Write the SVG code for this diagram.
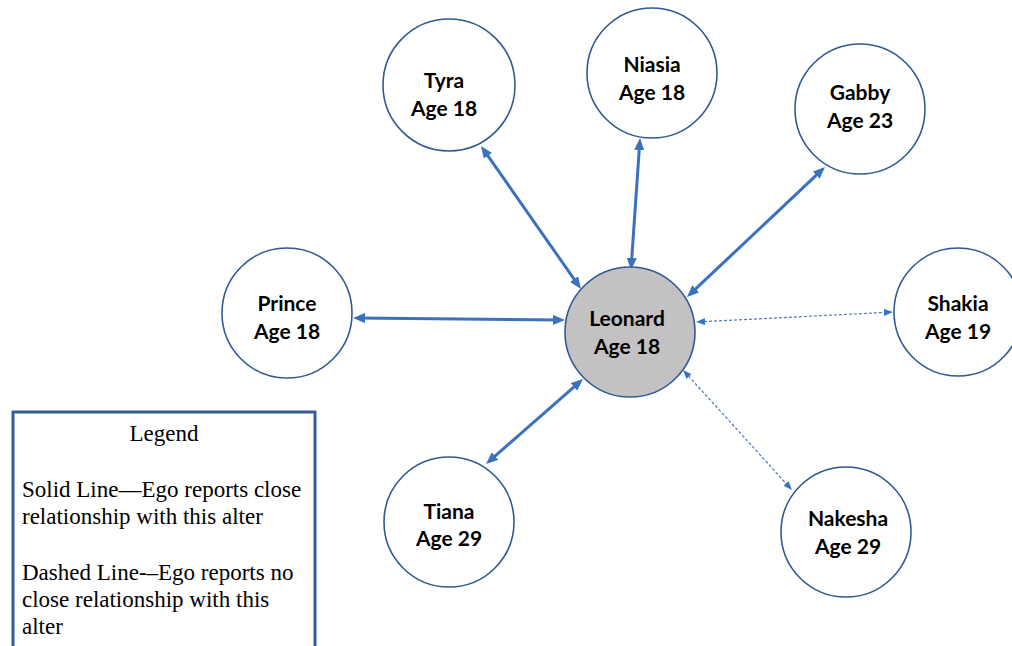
<svg xmlns="http://www.w3.org/2000/svg" width="1012" height="646" viewBox="0 0 1012 646">
<style>
.node{fill:#FFFFFF;stroke:#2E5A94;stroke-width:1.6}
.ego{fill:#C3C1C2;stroke:#2E5A94;stroke-width:1.6}
.lbl{font-family:Lato,"Liberation Sans",sans-serif;font-weight:bold;font-size:21px;fill:#000;text-anchor:middle}
.solid{stroke:#3A72BF;stroke-width:3;fill:none;marker-start:url(#ah);marker-end:url(#ah)}
.dash{stroke:#4F78B5;stroke-width:1.2;stroke-dasharray:3 2;fill:none;marker-start:url(#ahs);marker-end:url(#ahs)}
.leg{font-family:"Liberation Serif","Times New Roman",serif;font-size:23px;fill:#000}
</style>
<defs>
<marker id="ah" markerUnits="userSpaceOnUse" viewBox="0 0 12 10" markerWidth="12" markerHeight="10" refX="7" refY="5" orient="auto-start-reverse">
<path d="M0,0 L12,5 L0,10 z" fill="#3A72BF"/>
</marker>
<marker id="ahs" markerUnits="userSpaceOnUse" viewBox="0 0 9 7" markerWidth="9" markerHeight="7" refX="6" refY="3.5" orient="auto-start-reverse">
<path d="M0,0 L9,3.5 L0,7 z" fill="#3A72BF"/>
</marker>
</defs>
<rect width="1012" height="646" fill="#FFFFFF"/>
<g id="connectors">
<line class="solid" x1="483.9" y1="150.1" x2="578.1" y2="284.9"/>
<line class="solid" x1="639.7" y1="143" x2="631.3" y2="265"/>
<line class="solid" x1="821.4" y1="170.4" x2="690.6" y2="293.6"/>
<line class="solid" x1="358" y1="318" x2="560" y2="320"/>
<line class="solid" x1="579.2" y1="382.3" x2="489.8" y2="460.7"/>
<line class="dash" x1="699" y1="321.85" x2="890" y2="312.15"/>
<line class="dash" x1="685" y1="372.2" x2="790" y2="487.8"/>
</g>
<g id="node-tyra">
<circle class="node" cx="449" cy="85" r="66"/>
<text class="lbl" x="444" y="88">Tyra</text>
<text class="lbl" x="444" y="116">Age 18</text>
</g>
<g id="node-niasia">
<circle class="node" cx="652" cy="73" r="65"/>
<text class="lbl" x="652" y="72">Niasia</text>
<text class="lbl" x="652" y="100">Age 18</text>
</g>
<g id="node-gabby">
<circle class="node" cx="860" cy="109" r="65"/>
<text class="lbl" x="860" y="100">Gabby</text>
<text class="lbl" x="860" y="128">Age 23</text>
</g>
<g id="node-prince">
<circle class="node" cx="287" cy="313" r="65"/>
<text class="lbl" x="287" y="311">Prince</text>
<text class="lbl" x="287" y="339">Age 18</text>
</g>
<g id="node-leonard">
<circle class="ego" cx="630" cy="332" r="65"/>
<text class="lbl" x="627" y="326">Leonard</text>
<text class="lbl" x="627" y="354">Age 18</text>
</g>
<g id="node-shakia">
<circle class="node" cx="958" cy="312" r="64"/>
<text class="lbl" x="958" y="311">Shakia</text>
<text class="lbl" x="958" y="339">Age 19</text>
</g>
<g id="node-tiana">
<circle class="node" cx="449" cy="522" r="65"/>
<text class="lbl" x="449" y="519">Tiana</text>
<text class="lbl" x="449" y="546">Age 29</text>
</g>
<g id="node-nakesha">
<circle class="node" cx="846" cy="532" r="65"/>
<text class="lbl" x="848" y="526">Nakesha</text>
<text class="lbl" x="848" y="554">Age 29</text>
</g>
<g id="legend">
<rect x="13" y="412" width="302" height="250" fill="#FFFFFF" stroke="#2F5C99" stroke-width="3"/>
<text class="leg" x="164" y="441" text-anchor="middle">Legend</text>
<text class="leg" x="22" y="497">Solid Line—Ego reports close</text>
<text class="leg" x="22" y="524">relationship with this alter</text>
<text class="leg" x="22" y="580">Dashed Line-–Ego reports no</text>
<text class="leg" x="22" y="607">close relationship with this</text>
<text class="leg" x="22" y="634">alter</text>
</g>
</svg>
